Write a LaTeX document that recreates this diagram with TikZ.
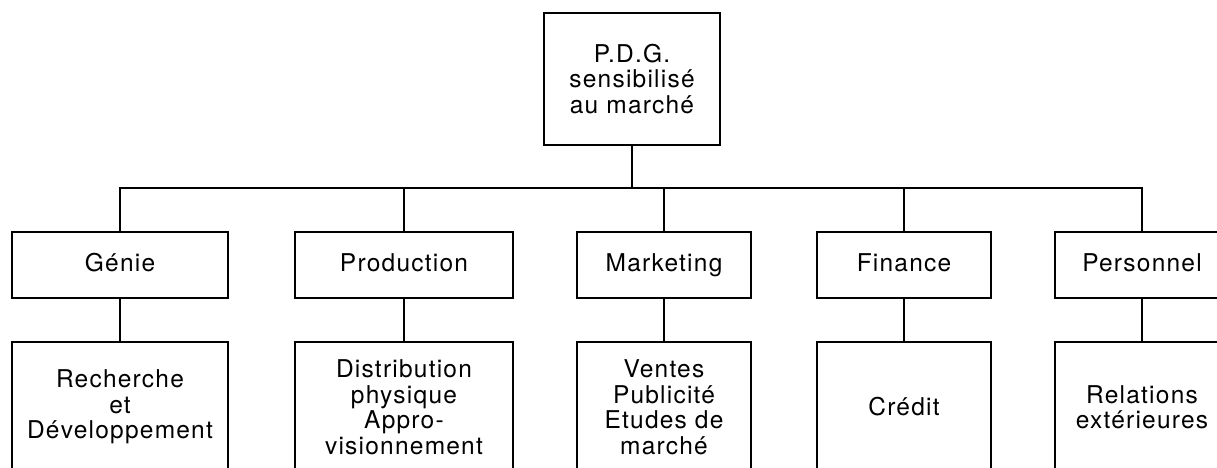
\documentclass[tikz,border=0pt]{standalone}
\usepackage{fontspec}
\setmainfont{TeX Gyre Heros}[LetterSpace=5]
\begin{document}
\begin{tikzpicture}[x=1pt,y=-1pt,
  box/.style={draw=black,line width=2pt,align=center,inner sep=0pt,
    font=\fontsize{24.5}{25.5}\selectfont,text=black},
  mid/.style={box,minimum height=66pt,text height=17.5pt,text depth=5pt},
  link/.style={draw=black,line width=2pt}]
\useasboundingbox (0,0) rectangle (1217,468);
\clip (0,0) rectangle (1217,468);
\fill[white] (0,0) rectangle (1217,468);
% top
\node[box,minimum width=176pt,minimum height=132pt] (pdg) at (632,79) {P.D.G.\\sensibilisé\\au marché};
% middle level
\node[mid,minimum width=216pt] (gen) at (120,265) {Génie};
\node[mid,minimum width=218pt] (prod) at (404,265) {Production};
\node[mid,minimum width=174pt] (mkt) at (664,265) {Marketing};
\node[mid,minimum width=174pt] (fin) at (904,265) {Finance};
\node[mid,minimum width=174pt] (pers) at (1142,265) {Personnel};
% bottom level
\node[box,minimum width=216pt,minimum height=130pt] (rd) at (120,407) {Recherche\\et\\Développement};
\node[box,minimum width=218pt,minimum height=130pt] (dist) at (404,407) {Distribution\\physique\\Appro-\\visionnement};
\node[box,minimum width=174pt,minimum height=130pt] (vent) at (664,407) {Ventes\\Publicité\\Etudes de\\marché};
\node[box,minimum width=174pt,minimum height=130pt] (cred) at (904,407) {Crédit};
\node[box,minimum width=174pt,minimum height=130pt] (rel) at (1142,407) {Relations\\extérieures};
% connectors
\coordinate (bus) at (632,188);
\path[link] (pdg.south) -- (bus);
\path[link] (gen.north) |- (bus) -| (pers.north);
\path[link] (prod.north) -- (prod.north |- bus);
\path[link] (mkt.north) -- (mkt.north |- bus);
\path[link] (fin.north) -- (fin.north |- bus);
\path[link] (gen.south) -- (rd.north);
\path[link] (prod.south) -- (dist.north);
\path[link] (mkt.south) -- (vent.north);
\path[link] (fin.south) -- (cred.north);
\path[link] (pers.south) -- (rel.north);
\end{tikzpicture}
\end{document}
